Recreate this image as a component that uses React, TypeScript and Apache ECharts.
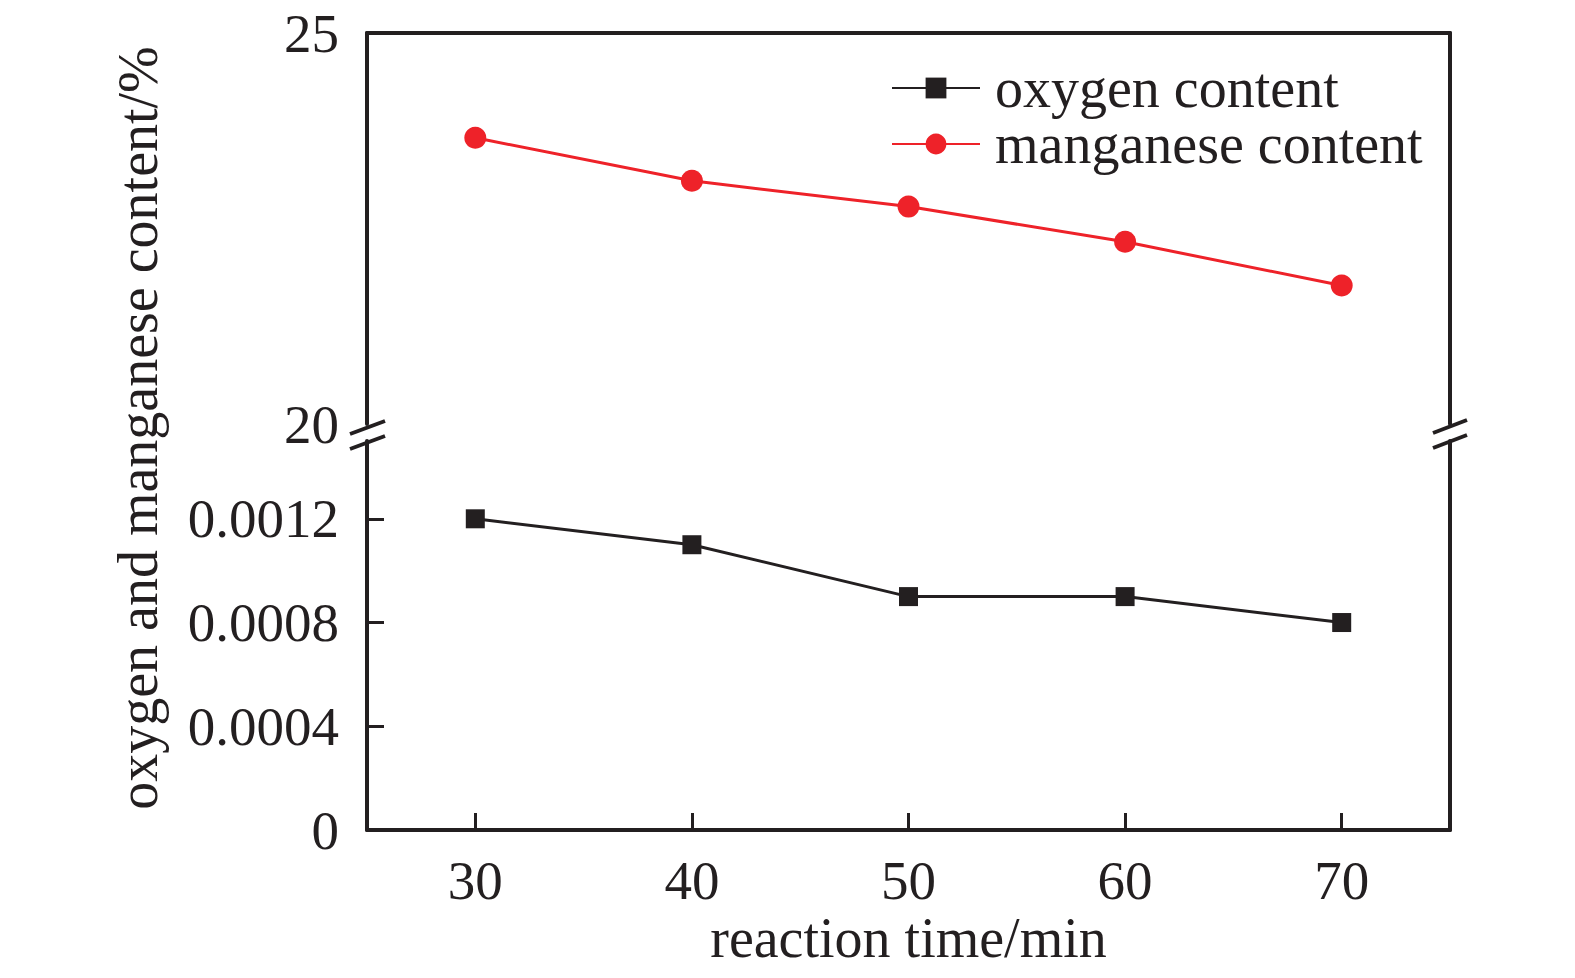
import React, { useEffect, useRef } from "react";
import * as echarts from "echarts";

const reactionTime = [30, 40, 50, 60, 70];
const oxygenContent = [0.0012, 0.0011, 0.0009, 0.0009, 0.0008];
const manganeseContent = [23.66, 23.11, 22.78, 22.33, 21.77];
const xTicks = [30, 40, 50, 60, 70];
const lowerYTicks = [0, 0.0004, 0.0008, 0.0012];
const upperYTicks = [20, 25];

const FONT = "'Liberation Serif', 'Times New Roman', serif";
const INK = "#231F20";
const RED = "#EE2229";

export default function App() {
  const ref = useRef<HTMLDivElement>(null);
  useEffect(() => {
    if (!ref.current) return;
    const chart = echarts.init(ref.current, null, { renderer: "svg" });
    const axisLine = { show: true, lineStyle: { color: INK, width: 4 } };
    const option: any = {
      animation: false,
      backgroundColor: "#fff",
      grid: [
        { left: 367, right: 125, top: 33, height: 391 },
        { left: 367, right: 125, top: 441, height: 389 },
      ],
      xAxis: [
        {
          gridIndex: 0, type: "value", min: 25, max: 75, position: "top",
          axisLine, axisTick: { show: false }, axisLabel: { show: false }, splitLine: { show: false },
        },
        {
          gridIndex: 1, type: "value", min: 25, max: 75, position: "bottom",
          axisLine,
          axisTick: { show: true, inside: true, length: 17, lineStyle: { color: INK, width: 3 }, customValues: xTicks },
          axisLabel: { customValues: xTicks, fontFamily: FONT, fontSize: 55, color: INK, margin: 23 },
          splitLine: { show: false },
          name: "reaction time/min", nameLocation: "middle", nameGap: 80,
          nameTextStyle: { fontFamily: FONT, fontSize: 56, color: INK },
        },
      ],
      yAxis: [
        {
          gridIndex: 0, type: "value", min: 20, max: 25,
          axisLine, axisTick: { show: false },
          axisLabel: { customValues: upperYTicks, fontFamily: FONT, fontSize: 55, color: INK, margin: 28 },
          splitLine: { show: false },
        },
        {
          gridIndex: 1, type: "value", min: 0, max: 0.0015,
          axisLine,
          axisTick: { show: true, inside: true, length: 17, lineStyle: { color: INK, width: 3 }, customValues: lowerYTicks },
          axisLabel: {
            customValues: lowerYTicks, fontFamily: FONT, fontSize: 55, color: INK, margin: 28,
            formatter: (v: number) => (v === 0 ? "0" : v.toFixed(4)),
          },
          splitLine: { show: false },
        },
        {
          gridIndex: 0, type: "value", min: 20, max: 25, position: "right",
          axisLine, axisTick: { show: false }, axisLabel: { show: false }, splitLine: { show: false },
        },
        {
          gridIndex: 1, type: "value", min: 0, max: 0.0015, position: "right",
          axisLine, axisTick: { show: false }, axisLabel: { show: false }, splitLine: { show: false },
        },
      ],
      legend: {
        orient: "vertical",
        left: 886,
        top: 55,
        itemWidth: 88,
        itemHeight: 26,
        itemGap: 0,
        textStyle: { fontFamily: FONT, fontSize: 56, color: INK, lineHeight: 56, padding: [0, 0, 0, 10] },
        data: ["oxygen content", "manganese content"],
      },
      series: [
        {
          name: "oxygen content", type: "line", xAxisIndex: 1, yAxisIndex: 1,
          data: reactionTime.map((t, i) => [t, oxygenContent[i]]),
          symbol: "rect", symbolSize: 19,
          lineStyle: { color: INK, width: 3 }, itemStyle: { color: INK },
        },
        {
          name: "manganese content", type: "line", xAxisIndex: 0, yAxisIndex: 0,
          data: reactionTime.map((t, i) => [t, manganeseContent[i]]),
          symbol: "circle", symbolSize: 22,
          lineStyle: { color: RED, width: 3 }, itemStyle: { color: RED },
        },
      ],
      graphic: [
        {
          type: "text", x: 138, y: 428, rotation: Math.PI / 2,
          style: {
            text: "oxygen and manganese content/%", fontFamily: FONT, fontSize: 56, fill: INK,
            align: "center", verticalAlign: "middle",
          },
        },
        { type: "rect", shape: { x: 360, y: 424, width: 14, height: 17 }, style: { fill: "#fff" } },
        { type: "rect", shape: { x: 1443, y: 424, width: 14, height: 17 }, style: { fill: "#fff" } },
        { type: "line", shape: { x1: 350, y1: 434, x2: 385, y2: 421 }, style: { stroke: INK, lineWidth: 4 } },
        { type: "line", shape: { x1: 350, y1: 449, x2: 385, y2: 436 }, style: { stroke: INK, lineWidth: 4 } },
        { type: "line", shape: { x1: 1433, y1: 433, x2: 1467, y2: 420 }, style: { stroke: INK, lineWidth: 4 } },
        { type: "line", shape: { x1: 1433, y1: 448, x2: 1467, y2: 435 }, style: { stroke: INK, lineWidth: 4 } },
      ],
    };
    chart.setOption(option);
    return () => chart.dispose();
  }, []);
  return (
    <div
      ref={ref}
      style={{ position: "fixed", left: 0, top: 0, width: 1575, height: 978, background: "#fff" }}
    />
  );
}
